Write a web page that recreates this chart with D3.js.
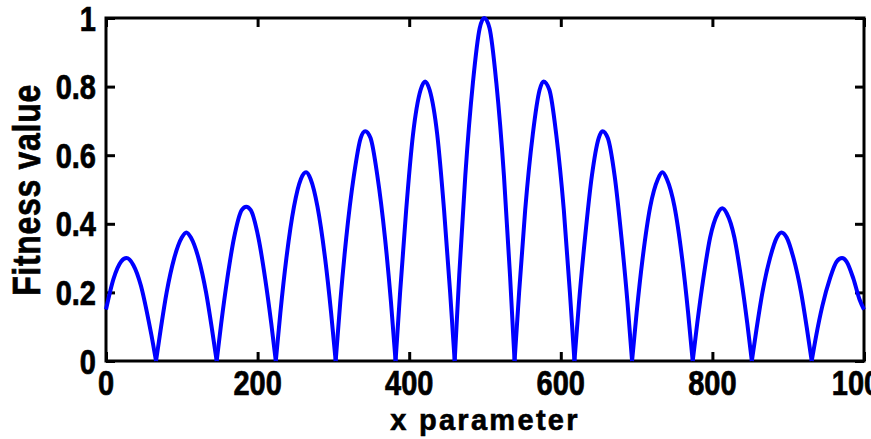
<!DOCTYPE html>
<html lang="en">

<head>
  <title>Fitness value vs x parameter</title>
  <script src="https://cdn.jsdelivr.net/npm/d3@7"></script>
  <style>
    body { margin: 0; background: #fff; }
    text { font-family: "Liberation Sans", Arial, Helvetica, sans-serif; font-weight: bold; fill: #000; stroke: #000; stroke-width: 0.6px; }
  </style>
</head>

<body>
  <script>
    var xValues = [
      0, 10, 20, 27, 36, 46, 56, 60,
      66, 72, 80, 90, 100, 106, 112, 122, 132, 140,
      146, 152, 160, 169, 179, 185, 191, 201, 210, 218,
      224, 230, 238, 248, 257, 264, 270, 279, 289, 297,
      303, 309, 317, 327, 336, 342, 349, 358, 368, 376,
      382, 388, 396, 405, 415, 421, 427, 437, 446, 454,
      460, 466, 474, 484, 493, 499, 506, 515, 525, 533,
      539, 545, 553, 563, 572, 577, 585, 594, 604, 612,
      618, 624, 632, 641, 650, 655, 662, 671, 680, 688,
      694, 700, 708, 718, 728, 734, 740, 750, 760, 768,
      774, 780, 788, 797, 807, 813, 819, 829, 838, 846,
      852, 858, 866, 876, 885, 891, 898, 907, 917, 925,
      931, 937, 945, 955, 964, 971, 977, 986, 994, 1000
    ];
    var fitness = [
      0.15, 0.24, 0.29, 0.30, 0.28, 0.22, 0.12, 0.075,
      0, 0.09, 0.20, 0.30, 0.36, 0.375, 0.36, 0.30, 0.20, 0.09,
      0, 0.11, 0.24, 0.36, 0.44, 0.45, 0.44, 0.36, 0.24, 0.11,
      0, 0.14, 0.30, 0.45, 0.53, 0.55, 0.53, 0.45, 0.30, 0.14,
      0, 0.17, 0.36, 0.54, 0.65, 0.67, 0.65, 0.54, 0.36, 0.17,
      0, 0.20, 0.44, 0.66, 0.79, 0.815, 0.79, 0.66, 0.44, 0.20,
      0, 0.25, 0.54, 0.81, 0.97, 1.0, 0.97, 0.81, 0.54, 0.25,
      0, 0.20, 0.44, 0.66, 0.79, 0.815, 0.79, 0.66, 0.44, 0.20,
      0, 0.17, 0.36, 0.54, 0.65, 0.67, 0.65, 0.54, 0.36, 0.17,
      0, 0.14, 0.30, 0.45, 0.53, 0.55, 0.53, 0.45, 0.30, 0.14,
      0, 0.11, 0.24, 0.36, 0.43, 0.445, 0.43, 0.36, 0.24, 0.11,
      0, 0.09, 0.20, 0.30, 0.36, 0.375, 0.36, 0.30, 0.20, 0.09,
      0, 0.075, 0.16, 0.24, 0.29, 0.30, 0.29, 0.24, 0.18, 0.15
    ];
    var xTicks = [0, 200, 400, 600, 800, 1000];
    var yTicks = [0, 0.2, 0.4, 0.6, 0.8, 1];
    var yTickLabels = ["0", "0.2", "0.4", "0.6", "0.8", "1"];

    var w = 871;
    var h = 439;
    var margin = { top: 18, left: 106, right: 7, bottom: 78 };
    var width = w - margin.left - margin.right;
    var height = h - margin.top - margin.bottom;

    var x = d3.scaleLinear().domain([0, 1000]).range([0, width]);
    var y = d3.scaleLinear().domain([0, 1]).range([height, 0]);

    var svg = d3.select("body").append("svg")
      .attr("width", w)
      .attr("height", h);
    var g = svg.append("g")
      .attr("transform", "translate(" + margin.left + "," + margin.top + ")");

    // inward ticks on all four sides, MATLAB style
    var tick = 9;
    function ticksOnly(axis, tr) {
      var a = g.append("g").attr("transform", tr).call(axis);
      a.select(".domain").remove();
      a.selectAll("line").attr("stroke", "#000").attr("stroke-width", 3);
      a.selectAll("text").remove();
    }
    ticksOnly(d3.axisBottom(x).tickValues(xTicks).tickSize(-tick), "translate(0," + height + ")");
    ticksOnly(d3.axisTop(x).tickValues(xTicks).tickSize(-tick), "translate(0,0)");
    ticksOnly(d3.axisLeft(y).tickValues(yTicks).tickSize(-tick), "translate(0,0)");
    ticksOnly(d3.axisRight(y).tickValues(yTicks).tickSize(-tick), "translate(" + width + ",0)");

    g.append("rect")
      .attr("width", width)
      .attr("height", height)
      .attr("fill", "none")
      .attr("stroke", "#000")
      .attr("stroke-width", 3);

    // tick labels
    g.selectAll(".xlab")
      .data(xTicks)
      .enter()
      .append("text")
      .attr("class", "xlab")
      .attr("text-anchor", "middle")
      .attr("font-size", 29)
      .attr("transform", function (d) {
        return "translate(" + x(d) + "," + (height + 34) + ") scale(1,1.2)";
      })
      .text(function (d) { return d; });

    g.selectAll(".ylab")
      .data(yTicks)
      .enter()
      .append("text")
      .attr("class", "ylab")
      .attr("text-anchor", "end")
      .attr("font-size", 29)
      .attr("transform", function (d) {
        return "translate(-10," + (y(d) + 12.5) + ") scale(1,1.2)";
      })
      .text(function (d, i) { return yTickLabels[i]; });

    // axis titles
    svg.append("text")
      .attr("text-anchor", "middle")
      .attr("font-size", 29)
      .attr("letter-spacing", 2.3)
      .attr("x", margin.left + width / 2)
      .attr("y", 430)
      .text("x parameter");

    svg.append("text")
      .attr("text-anchor", "middle")
      .attr("font-size", 32)
      .attr("letter-spacing", 0.7)
      .attr("transform", "translate(40," + 190 + ") rotate(-90) scale(1,1.2)")
      .text("Fitness value");

    // the fitness curve: one smooth arch per lobe, sharp where it touches zero
    var lobes = [];
    var cur = [];
    xValues.forEach(function (xv, i) {
      cur.push(i);
      if (fitness[i] === 0 && cur.length > 1) {
        lobes.push(cur);
        cur = [i];
      }
    });
    lobes.push(cur);

    var line = d3.line()
      .curve(d3.curveMonotoneX)
      .x(function (i) { return x(xValues[i]); })
      .y(function (i) { return y(fitness[i]); });

    g.selectAll(".lobe")
      .data(lobes)
      .enter()
      .append("path")
      .attr("class", "lobe")
      .attr("fill", "none")
      .attr("stroke", "#0000ff")
      .attr("stroke-width", 4)
      .attr("stroke-linejoin", "round")
      .attr("d", line);
  </script>
</body>

</html>
